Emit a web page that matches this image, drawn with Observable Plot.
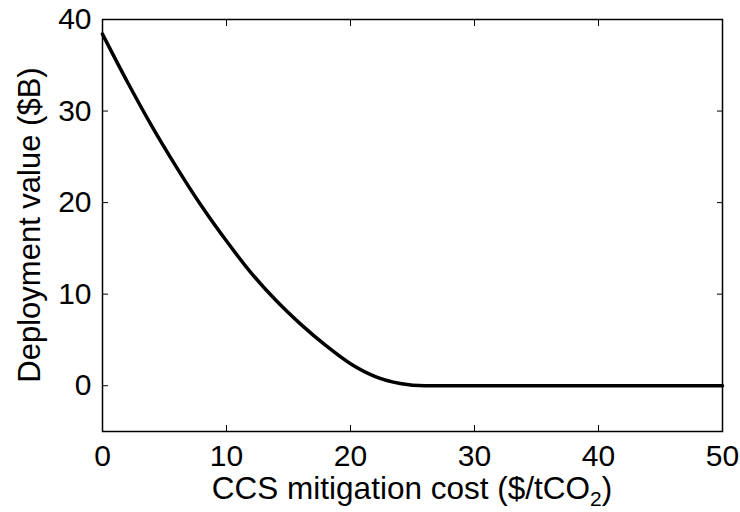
<!DOCTYPE html>
<html>
<head>
<meta charset="utf-8">
<script src="https://cdn.jsdelivr.net/npm/d3@7"></script>
<script src="https://cdn.jsdelivr.net/npm/@observablehq/plot@0.6"></script>
<style>
  html, body { margin: 0; padding: 0; background: #fff; }
  #chart { width: 740px; height: 512px; }
</style>
</head>
<body>
<div id="chart"></div>
<script>
// CCS mitigation cost ($/tCO2)
const cost = [0, 2, 4, 6, 8, 10, 12, 14, 16, 18, 20, 22, 24, 26, 30, 40, 50];
// Deployment value ($B)
const value = [38.4, 33.2, 28.3, 23.8, 19.6, 15.8, 12.3, 9.3, 6.7, 4.4, 2.4, 1.0, 0.25, 0, 0, 0, 0];
const xTicks = [0, 10, 20, 30, 40, 50];
const yTicks = [0, 10, 20, 30, 40];
const xLabel = "CCS mitigation cost ($/tCO";
const xLabelSub = "2";
const xLabelEnd = ")";
const yLabel = "Deployment value ($B)";

const data = cost.map((c, i) => ({cost: c, value: value[i]}));
const font = "'Liberation Sans', Arial, Helvetica, sans-serif";

const plot = Plot.plot({
  width: 740,
  height: 512,
  marginLeft: 102,
  marginRight: 18,
  marginTop: 19,
  marginBottom: 81,
  style: {fontFamily: font, fontSize: "30px", color: "black", background: "white", overflow: "visible"},
  x: {domain: [0, 50]},
  y: {domain: [-5, 40]},
  marks: [
    Plot.axisX({anchor: "bottom", ticks: xTicks, tickSize: -6, tickPadding: 19, label: null, tickFormat: d => String(d)}),
    Plot.axisX({anchor: "top", ticks: xTicks, tickSize: -6, label: null, tickFormat: () => ""}),
    Plot.axisY({anchor: "left", ticks: yTicks, tickSize: -6, tickPadding: 17, label: null, tickFormat: d => String(d)}),
    Plot.axisY({anchor: "right", ticks: yTicks, tickSize: -6, label: null, tickFormat: () => ""}),
    Plot.line(data, {x: "cost", y: "value", stroke: "black", strokeWidth: 3.5, curve: "monotone-x"}),
    Plot.frame({stroke: "black", strokeWidth: 1.5})
  ]
});

document.getElementById("chart").appendChild(plot);

const svg = d3.select(plot);
const xl = svg.append("text")
  .attr("x", (102 + 722) / 2)
  .attr("y", 499)
  .attr("text-anchor", "middle")
  .attr("fill", "black")
  .style("font-family", font)
  .style("font-size", "31.5px");
xl.append("tspan").text(xLabel);
xl.append("tspan").attr("dy", 7).style("font-size", "21px").text(xLabelSub);
xl.append("tspan").attr("dy", -7).text(xLabelEnd);

svg.append("text")
  .attr("transform", `translate(40, ${(19 + 431) / 2}) rotate(-90)`)
  .attr("text-anchor", "middle")
  .attr("fill", "black")
  .style("font-family", font)
  .style("font-size", "31px")
  .text(yLabel);
</script>
</body>
</html>
